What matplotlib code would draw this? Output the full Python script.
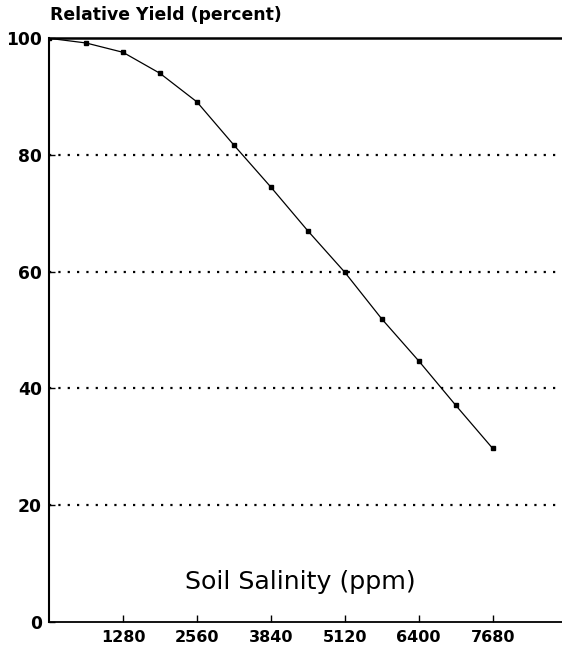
import matplotlib
matplotlib.use("Agg")
import matplotlib.pyplot as plt

# soil salinity (ppm) vs relative yield (percent)
salinity = [0, 640, 1280, 1920, 2560, 3200, 3840, 4480, 5120, 5760, 6400, 7040, 7680]
rel_yield = [100, 99.2, 97.6, 94.0, 89.1, 81.7, 74.5, 67.0, 59.9, 51.9, 44.7, 37.1, 29.7]

x_ticks = [1280, 2560, 3840, 5120, 6400, 7680]
y_ticks = [0, 20, 40, 60, 80, 100]
grid_levels = [20, 40, 60, 80]

fig = plt.figure(figsize=(5.62, 6.48), dpi=100)
ax = fig.add_axes([0.0872, 0.0406, 0.9128, 0.9003])

# dotted reference lines
for lvl in grid_levels:
    ax.axhline(lvl, color="black", linewidth=1.6, linestyle=(0, (1, 3.2)), zorder=1)

ax.plot(salinity, rel_yield, color="black", linewidth=0.9,
        marker="s", markersize=3.0, zorder=3)

ax.set_xlim(0, 8880)
ax.set_ylim(0, 100)

ax.spines["right"].set_visible(False)
ax.spines["top"].set_linewidth(1.8)
ax.spines["left"].set_linewidth(1.5)
ax.spines["bottom"].set_linewidth(1.3)

ax.set_xticks(x_ticks)
ax.set_xticklabels([str(t) for t in x_ticks], fontweight="bold", fontsize=11.5)
ax.set_yticks(y_ticks)
ax.set_yticklabels([str(t) for t in y_ticks], fontweight="bold", fontsize=12.3)
ax.tick_params(axis="x", direction="in", length=5, width=1, pad=6)
ax.tick_params(axis="y", direction="in", length=4, width=1, pad=5)

fig.text(0.089, 0.963, "Relative Yield (percent)", fontweight="bold",
         fontsize=12.4, ha="left", va="bottom")
ax.text(0.49, 0.068, "Soil Salinity (ppm)", transform=ax.transAxes,
        fontsize=18.2, ha="center", va="center")

fig.savefig("out.png", dpi=100)
